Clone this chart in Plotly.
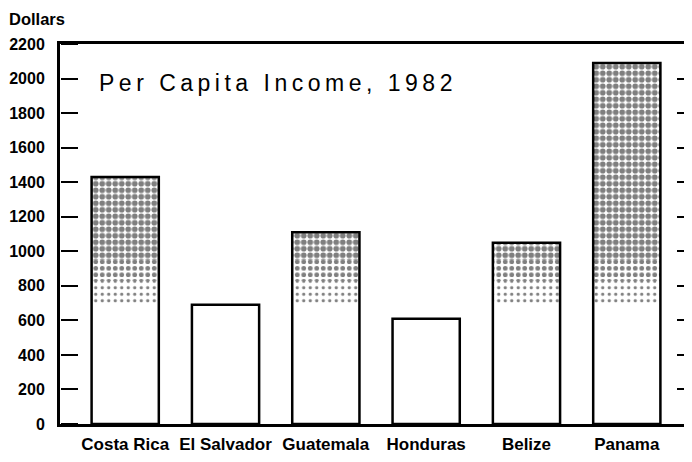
import plotly.graph_objects as go

countries = ["Costa Rica", "El Salvador", "Guatemala", "Honduras", "Belize", "Panama"]
income = [1430, 690, 1110, 610, 1050, 2090]
y_ticks = [0, 200, 400, 600, 800, 1000, 1200, 1400, 1600, 1800, 2000, 2200]

# halftone screen bands (value levels where the stipple fades out)
dense_from = 950
medium_from = 830
sparse_from = 700

BOLD = "Liberation Sans, Arial, sans-serif"
BW = 0.67

fig = go.Figure()

def band(yvals, solidity, size):
    fig.add_trace(go.Bar(
        x=countries, y=yvals, width=BW,
        marker=dict(color="white", line=dict(width=0),
                    pattern=dict(shape=".", fgcolor="black", bgcolor="white",
                                 size=size, solidity=solidity)),
        showlegend=False, hoverinfo="skip"))

band(income, 0.62, 6.5)
band([min(v, dense_from) for v in income], 0.42, 6.5)
band([min(v, medium_from) for v in income], 0.2, 6.5)
fig.add_trace(go.Bar(
    x=countries, y=[min(v, sparse_from) for v in income], width=BW,
    marker=dict(color="white", line=dict(width=0)),
    showlegend=False, hoverinfo="skip"))
# invisible carrier for the left tick axis
fig.add_trace(go.Bar(
    x=countries, y=income, width=BW, yaxis="y3",
    marker=dict(color="rgba(0,0,0,0)", line=dict(width=0)),
    showlegend=False, hoverinfo="skip"))
# outlines (carry the right tick axis)
fig.add_trace(go.Bar(
    x=countries, y=income, width=BW, yaxis="y2",
    marker=dict(color="rgba(0,0,0,0)", line=dict(color="black", width=2.5)),
    showlegend=False, hoverinfo="skip"))

tick_font = dict(family=BOLD, size=17, color="black", weight="bold")

fig.update_layout(
    width=692, height=462,
    margin=dict(l=52, r=8, t=36, b=46, autoexpand=False),
    paper_bgcolor="white", plot_bgcolor="white",
    barmode="overlay",
    xaxis=dict(range=[-0.65, 5.65], showline=True, linecolor="black", linewidth=3,
               mirror=True, ticks="", showgrid=False, zeroline=False,
               tickangle=0, automargin=False,
               tickfont=tick_font, ticklabelstandoff=3),
    yaxis=dict(range=[0, 2200], tickvals=y_ticks, ticktext=[str(v) for v in y_ticks],
               showline=True, linecolor="black", linewidth=3, mirror=False,
               ticks="", showgrid=False, zeroline=False, automargin=False,
               tickfont=dict(family=BOLD, size=16, color="black", weight="bold"),
               ticklabelstandoff=9),
    yaxis3=dict(range=[0, 2200], overlaying="y", side="right", anchor="free",
                position=0, tickvals=y_ticks,
                showticklabels=False, showline=False, ticks="outside", ticklen=17,
                tickwidth=2, tickcolor="black", showgrid=False, zeroline=False,
                automargin=False),
    yaxis2=dict(range=[0, 2200], overlaying="y", side="right", tickvals=y_ticks,
                showticklabels=False, showline=False, ticks="inside", ticklen=15,
                tickwidth=2, tickcolor="black", showgrid=False, zeroline=False,
                automargin=False),
    annotations=[
        dict(text="Dollars", xref="paper", yref="paper", x=-0.084, y=1.066,
             xanchor="left", yanchor="middle", showarrow=False,
             font=dict(family=BOLD, size=16.5, color="black", weight="bold")),
        dict(text='<span style="letter-spacing:4.5px">Per Capita Income, 1982</span>',
             xref="paper", yref="paper", x=0.0585, y=0.897,
             xanchor="left", yanchor="middle", showarrow=False,
             font=dict(family="Liberation Sans, Arial, sans-serif", size=23, color="black")),
    ],
)

fig.write_html("out.html")
